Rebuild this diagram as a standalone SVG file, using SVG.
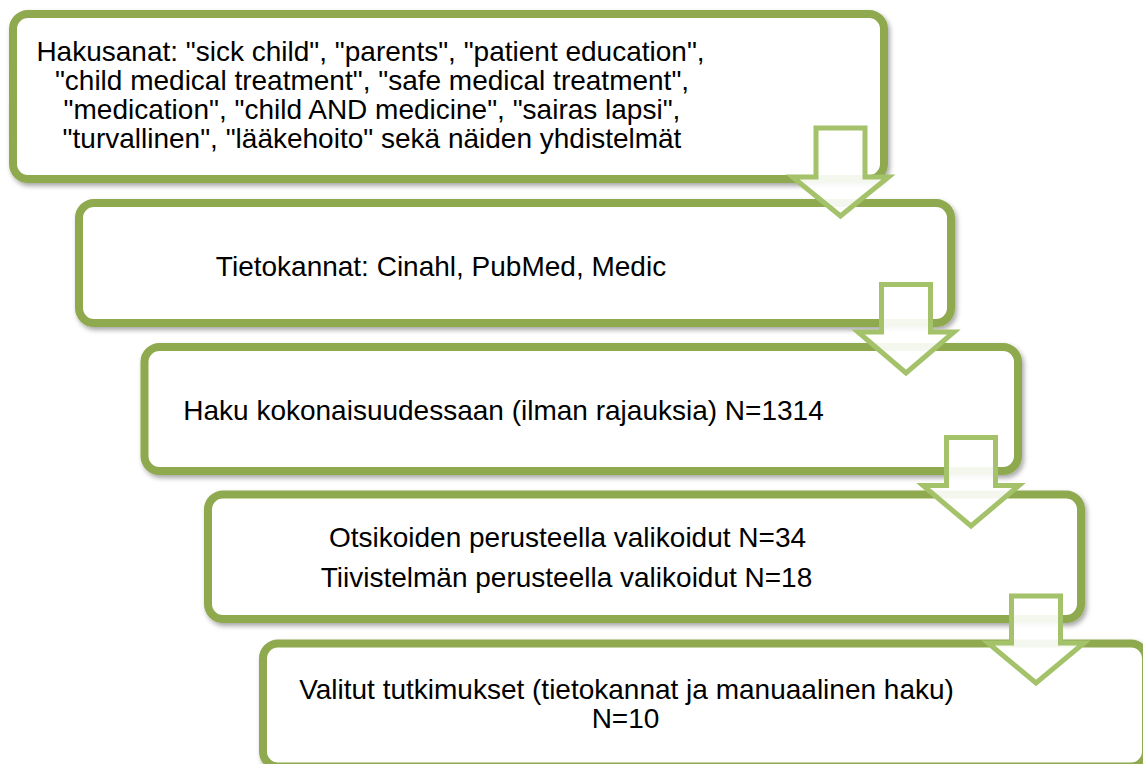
<svg xmlns="http://www.w3.org/2000/svg" width="1143" height="764" viewBox="0 0 1143 764">
<style>
.box{fill:#ffffff;stroke:#8fa94f;stroke-width:8;filter:url(#sh)}
.arr{fill:#ffffff;fill-opacity:0.9;stroke:#a3c26a;stroke-width:5;stroke-linejoin:miter}
.t{font-family:"Liberation Sans",Arial,sans-serif;font-size:28px;fill:#000000;text-anchor:middle}
</style>
<defs>
<filter id="sh" x="-5%" y="-10%" width="110%" height="125%">
<feDropShadow dx="2" dy="3" stdDeviation="2.5" flood-color="#000000" flood-opacity="0.35"/>
</filter>
</defs>
<rect width="1143" height="764" fill="#ffffff"/>
<g id="node1">
<rect class="box" x="13" y="14" width="871" height="165" rx="15"/>
<text class="t" x="370.5" y="61">Hakusanat: "sick child", "parents", "patient education",</text>
<text class="t" x="372" y="90">"child medical treatment", "safe medical treatment",</text>
<text class="t" x="372" y="119">"medication", "child AND medicine", "sairas lapsi",</text>
<text class="t" x="372" y="148">"turvallinen", "lääkehoito" sekä näiden yhdistelmät</text>
</g>
<g id="node2">
<rect class="box" x="79" y="203" width="872" height="120" rx="15"/>
<text class="t" x="441" y="276">Tietokannat: Cinahl, PubMed, Medic</text>
</g>
<g id="node3">
<rect class="box" x="144.5" y="347" width="873.5" height="124" rx="15"/>
<text class="t" x="503.5" y="420">Haku kokonaisuudessaan (ilman rajauksia) N=1314</text>
</g>
<g id="node4">
<rect class="box" x="208" y="494.5" width="873" height="124.5" rx="15"/>
<text class="t" x="567.5" y="547">Otsikoiden perusteella valikoidut N=34</text>
<text class="t" x="566.5" y="587">Tiivistelmän perusteella valikoidut N=18</text>
</g>
<g id="node5">
<rect class="box" x="263" y="643.5" width="883" height="123" rx="15"/>
<text class="t" x="626.5" y="699">Valitut tutkimukset (tietokannat ja manuaalinen haku)</text>
<text class="t" x="625.5" y="728">N=10</text>
</g>
<g id="connectors">
<polygon class="arr" points="816,128 865,128 865,177 888.5,177 840.5,216 792.5,177 816,177"/>
<polygon class="arr" points="881.5,284.5 930.5,284.5 930.5,332 954,332 906,373 858,332 881.5,332"/>
<polygon class="arr" points="946.5,437.5 995.5,437.5 995.5,485.5 1019,485.5 971,526 923,485.5 946.5,485.5"/>
<polygon class="arr" points="1011.5,596 1060.5,596 1060.5,643 1084,643 1036,683 988,643 1011.5,643"/>
</g>
</svg>
